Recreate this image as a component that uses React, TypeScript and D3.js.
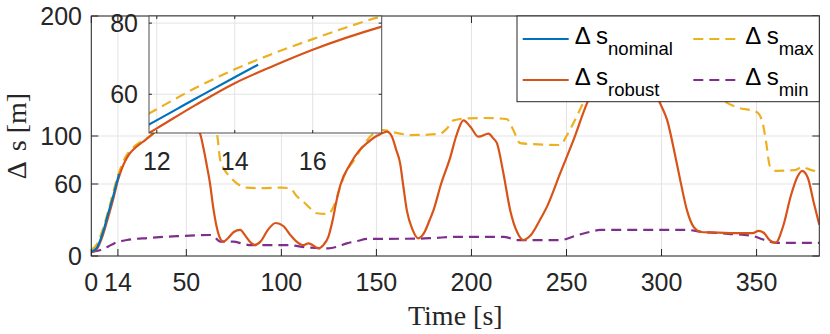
import React from 'react';
import * as d3 from 'd3';

// ---- data (time [s], value [m]) ----
const nominalT = [0, 3, 6, 9, 11.8, 13, 14, 14.6];
const nominalV = [3.5, 7, 19, 36, 51.5, 58.8, 64.8, 68.3];

const robustT = [0, 3, 6, 9, 11.8, 12, 13, 14, 15, 16, 17.77, 20, 23, 27, 31, 36, 42, 48, 53, 57.2, 59, 60.7, 62.5, 64, 66, 68, 69.5, 72, 75, 78.3, 81, 84, 86, 89, 93, 97, 101, 105, 108, 111.6, 114.2, 116.5, 119.5, 122, 124.7, 127, 129, 131, 136, 141, 145, 149, 152, 155.5, 158, 160.5, 162.5, 164, 166, 169, 172, 175, 178, 180, 184, 188.8, 192, 195.8, 199.3, 203.7, 209, 211.5, 213.4, 216.8, 220.4, 224, 227.4, 231, 236, 240, 246.7, 253.7, 260.7, 270, 280, 290, 299.3, 303, 307, 310, 313.4, 317, 321, 330, 340, 348, 351, 354, 357, 360, 364, 368, 371.5, 374, 377, 380, 383];
const robustV = [3, 6, 17, 33, 49.1, 50.4, 57, 63.1, 68, 72.5, 79, 85, 90, 95, 100, 107, 112, 113, 110, 102, 90, 76, 60, 42, 24, 14, 12, 15, 20, 21.7, 17, 11, 9.3, 12, 22, 27.5, 25, 17, 12, 9, 10.5, 9, 6.4, 9, 16, 30, 46, 59, 76, 88, 94, 99, 101.5, 103.6, 100, 88, 77, 60, 38, 22, 14.7, 19, 30, 38, 60, 82, 100, 113, 108, 99.4, 102, 98, 94, 69, 38, 20, 13.3, 17, 30, 42, 69, 96.7, 127, 155, 165, 155, 127, 113, 85, 62, 38, 24, 20, 19.5, 19, 19, 21, 19, 13, 11, 25, 50, 66, 71, 65, 45, 26];

const maxT = [0, 3, 6, 9, 11.8, 13, 14, 15, 16, 17.77, 20, 24, 28, 31, 36, 42, 50, 58, 63, 66, 67.7, 70, 73, 77, 81.8, 90, 100, 104.6, 108, 111.6, 115, 118.6, 124.7, 127.4, 131, 134.4, 137, 141.4, 148.4, 153.7, 158, 162.5, 167.7, 176, 183.5, 187, 190.5, 197.6, 208, 218.6, 222, 225.6, 235, 246.7, 250, 253.6, 258, 265, 280, 300, 320, 330, 338.7, 350, 353, 355, 357, 360, 370, 374, 378, 383];
const maxV = [5, 10, 22, 38, 54.6, 61.8, 67, 71.5, 75.5, 81.9, 87, 93, 97, 100, 106, 110, 112, 110, 106, 102, 81, 72, 66, 60, 57, 56.5, 57, 56.4, 50, 45.3, 40, 35.6, 35, 41, 57.8, 71.7, 77, 88, 102, 105, 103.5, 102, 100.8, 101, 102, 106, 113, 114.7, 115, 114, 105, 94, 93, 92.5, 100, 110.6, 125, 150, 168, 160, 145, 132, 124.4, 120, 112, 95, 75, 71, 71.5, 74, 72, 70];

const minT = [0, 5, 9, 12, 18.7, 30, 45, 62.5, 65, 67.8, 74.7, 80, 84, 104, 113, 124.6, 130, 134.4, 140, 145, 173, 180, 192, 217, 221, 224, 246.7, 255, 262, 267.7, 313.4, 320.4, 335, 348, 353, 358, 361, 383];
const minV = [3.5, 5, 8, 10.5, 13.3, 15, 16.5, 17.5, 15.5, 12, 12, 10, 9, 9, 7.2, 6.4, 8, 10.5, 12.5, 14.2, 14.5, 15, 16, 16, 14.5, 13.3, 13.3, 17, 20, 21.7, 21.7, 20.3, 18.5, 16.7, 14, 11.5, 11, 11];

const xTicks = [0, 14, 50, 100, 150, 200, 250, 300, 350];
const yTicks = [0, 60, 100, 200];
const insetXTicks = [12, 14, 16];
const insetYTicks = [60, 80];

const C_NOM = '#0072BD';
const C_ROB = '#D95319';
const C_MAX = '#EDB120';
const C_MIN = '#7E2F8E';
const AX = '#262626';
const GRID = '#e3e3e3';
const SANS = "'Liberation Sans', Arial, Helvetica, sans-serif";
const SERIF = "'Liberation Serif', 'DejaVu Serif', 'Times New Roman', serif";

type P = [number, number];
const zip = (t: number[], v: number[]): P[] => t.map((ti, i) => [ti, v[i]]);

export default function App() {
  const W = 830, H = 334;
  const x = d3.scaleLinear().domain([0, 383]).range([91.3, 819.3]);
  const y = d3.scaleLinear().domain([0, 200]).range([256, 16]);
  const xi = d3.scaleLinear().domain([11.8, 17.77]).range([149, 381.7]);
  const yi = d3.scaleLinear().domain([49.1, 82]).range([133, 16]);

  const mk = (sx: any, sy: any) =>
    d3.line<P>().x(d => sx(d[0])).y(d => sy(d[1])).curve(d3.curveMonotoneX);
  const lm = mk(x, y);
  const li = mk(xi, yi);

  const series = [
    { d: zip(nominalT, nominalV), c: C_NOM, dash: undefined },
    { d: zip(robustT, robustV), c: C_ROB, dash: undefined },
    { d: zip(maxT, maxV), c: C_MAX, dash: '10,6' },
    { d: zip(minT, minV), c: C_MIN, dash: '10,6' },
  ];
  const drawOrder = [2, 3, 1, 0];

  const [x0, x1] = x.range();
  const [yb, yt] = y.range();
  const [ix0, ix1] = xi.range();
  const [iyb, iyt] = yi.range();
  const tl = 7;
  const til = 3;

  const legendRows = [
    { c: C_NOM, dash: undefined, sub: 'nominal', col: 0, row: 0 },
    { c: C_MAX, dash: '10,6', sub: 'max', col: 1, row: 0 },
    { c: C_ROB, dash: undefined, sub: 'robust', col: 0, row: 1 },
    { c: C_MIN, dash: '10,6', sub: 'min', col: 1, row: 1 },
  ];
  const colX = [522.7, 693.3];
  const rowY = [39, 80];
  const sans = { fontFamily: SANS };
  const serif = { fontFamily: SERIF };

  return (
    <svg width={W} height={H} style={{ position: 'absolute', left: 0, top: 0, background: '#fff' }}>
      <defs>
        <clipPath id="cm"><rect x={x0} y={yt} width={x1 - x0} height={yb - yt} /></clipPath>
        <clipPath id="ci"><rect x={ix0} y={iyt} width={ix1 - ix0} height={iyb - iyt} /></clipPath>
      </defs>
      <rect x={0} y={0} width={W} height={H} fill="#fff" />
      {/* main grid */}
      {xTicks.map(t => <line key={'gx' + t} x1={x(t)} x2={x(t)} y1={yt} y2={yb} stroke={GRID} strokeWidth={1} />)}
      {yTicks.map(t => <line key={'gy' + t} x1={x0} x2={x1} y1={y(t)} y2={y(t)} stroke={GRID} strokeWidth={1} />)}
      {/* main lines */}
      <g clipPath="url(#cm)">
        {drawOrder.map(i => (
          <path key={'m' + i} d={lm(series[i].d) || ''} fill="none" stroke={series[i].c} strokeWidth={2.2}
            strokeDasharray={series[i].dash} strokeLinejoin="round" />
        ))}
      </g>
      {/* main axes box and ticks */}
      <rect x={x0} y={yt} width={x1 - x0} height={yb - yt} fill="none" stroke={AX} strokeWidth={1} />
      {xTicks.map(t => (
        <g key={'tx' + t}>
          <line x1={x(t)} x2={x(t)} y1={yb} y2={yb - tl} stroke={AX} />
          <line x1={x(t)} x2={x(t)} y1={yt} y2={yt + tl} stroke={AX} />
          <text x={x(t)} y={291} textAnchor="middle" style={sans} fontSize={25} fill={AX}>{t}</text>
        </g>
      ))}
      {yTicks.map(t => (
        <g key={'ty' + t}>
          <line x1={x0} x2={x0 + tl} y1={y(t)} y2={y(t)} stroke={AX} />
          <line x1={x1} x2={x1 - tl} y1={y(t)} y2={y(t)} stroke={AX} />
          <text x={82} y={y(t) + 9} textAnchor="end" style={sans} fontSize={25} fill={AX}>{t}</text>
        </g>
      ))}
      <text x={(x0 + x1) / 2} y={325} textAnchor="middle" style={serif} fontSize={28} fill={AX}>Time [s]</text>
      <text transform="translate(26,136) rotate(-90)" textAnchor="middle" style={serif} fontSize={28} fill={AX}>
        <tspan>Δ</tspan><tspan dx={10}>s [m]</tspan>
      </text>

      {/* inset */}
      <rect x={ix0} y={iyt} width={ix1 - ix0} height={iyb - iyt} fill="#fff" />
      {insetXTicks.map(t => <line key={'igx' + t} x1={xi(t)} x2={xi(t)} y1={iyt} y2={iyb} stroke={GRID} />)}
      {insetYTicks.map(t => <line key={'igy' + t} x1={ix0} x2={ix1} y1={yi(t)} y2={yi(t)} stroke={GRID} />)}
      <g clipPath="url(#ci)">
        {drawOrder.map(i => (
          <path key={'i' + i} d={li(series[i].d) || ''} fill="none" stroke={series[i].c} strokeWidth={2.2}
            strokeDasharray={series[i].dash} strokeLinejoin="round" />
        ))}
      </g>
      <rect x={ix0} y={iyt} width={ix1 - ix0} height={iyb - iyt} fill="none" stroke="#4d4d4d" strokeWidth={1} />
      {insetXTicks.map(t => (
        <g key={'itx' + t}>
          <line x1={xi(t)} x2={xi(t)} y1={iyb} y2={iyb - til} stroke={AX} />
          <line x1={xi(t)} x2={xi(t)} y1={iyt} y2={iyt + til} stroke={AX} />
          <text x={xi(t)} y={170} textAnchor="middle" style={sans} fontSize={25} fill={AX}>{t}</text>
        </g>
      ))}
      {insetYTicks.map(t => (
        <g key={'ity' + t}>
          <line x1={ix0} x2={ix0 + til} y1={yi(t)} y2={yi(t)} stroke={AX} />
          <line x1={ix1} x2={ix1 - til} y1={yi(t)} y2={yi(t)} stroke={AX} />
          <text x={138} y={yi(t) + 9} textAnchor="end" style={sans} fontSize={25} fill={AX}>{t}</text>
        </g>
      ))}

      {/* legend */}
      <rect x={517} y={yt} width={x1 - 517} height={101.7 - yt} fill="#fff" stroke={AX} strokeWidth={1} />
      {legendRows.map(r => {
        const lx = colX[r.col];
        const ly = rowY[r.row];
        return (
          <g key={r.sub}>
            <line x1={lx} x2={lx + 46} y1={ly} y2={ly} stroke={r.c} strokeWidth={2.2} strokeDasharray={r.dash} />
            <text x={lx + 52} y={ly + 5} style={sans} fontSize={24} fill="#000">
              <tspan>Δ s</tspan>
              <tspan fontSize={18.5} dy={11}>{r.sub}</tspan>
            </text>
          </g>
        );
      })}
    </svg>
  );
}
